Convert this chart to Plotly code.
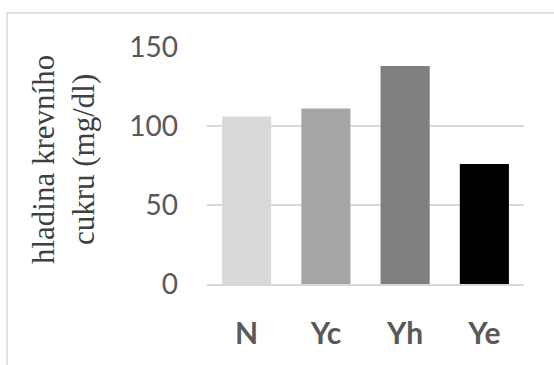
import plotly.graph_objects as go

# Blood sugar level per group
groups = ["N", "Yc", "Yh", "Ye"]
sugar_mg_dl = [106, 111, 138, 76]
bar_colors = ["#d9d9d9", "#a6a6a6", "#7f7f7f", "#000000"]
y_ticks = [0, 50, 100, 150]

W, H = 554, 365
ML, MR, MT, MB = 207, 30, 47, 81
plot_w = W - ML - MR
plot_h = H - MT - MB

fig = go.Figure(
    go.Bar(
        x=groups,
        y=sugar_mg_dl,
        marker=dict(color=bar_colors, line=dict(width=0)),
        showlegend=False,
    )
)

fig.update_layout(
    width=W,
    height=H,
    margin=dict(l=ML, r=MR, t=MT, b=MB, pad=0),
    paper_bgcolor="white",
    plot_bgcolor="white",
    bargap=0.38,
    xaxis=dict(
        showgrid=False,
        showline=True,
        linecolor="#d9d9d9",
        linewidth=1.5,
        ticks="",
        tickfont=dict(family="Lato", size=30, color="#595959", weight="bold"),
        ticklabelstandoff=22,
    ),
    yaxis=dict(
        range=[0, 150],
        tickvals=y_ticks,
        showgrid=True,
        gridcolor="#d9d9d9",
        gridwidth=1.5,
        zeroline=False,
        showline=False,
        ticks="",
        tickfont=dict(family="Lato", size=28, color="#595959"),
        ticklabelstandoff=28,
    ),
    annotations=[
        dict(
            text="hladina krevního<br>cukru (mg/dl)",
            xref="paper",
            yref="paper",
            x=(63 - ML) / plot_w,
            y=(H - MB - 160) / plot_h,
            xanchor="center",
            yanchor="middle",
            textangle=-90,
            showarrow=False,
            font=dict(family="Liberation Serif", size=31, color="#404040"),
        )
    ],
    shapes=[
        # outer chart frame (left and top edges)
        dict(type="line", xref="paper", yref="paper",
             x0=(7 - ML) / plot_w, x1=(W + 5 - ML) / plot_w,
             y0=(H - MB - 13) / plot_h, y1=(H - MB - 13) / plot_h,
             line=dict(color="#d9d9d9", width=1.5)),
        dict(type="line", xref="paper", yref="paper",
             x0=(7 - ML) / plot_w, x1=(7 - ML) / plot_w,
             y0=(H - MB - 13) / plot_h, y1=(H - MB - H - 5) / plot_h,
             line=dict(color="#d9d9d9", width=1.5)),
    ],
)

fig.write_html("out.html")
